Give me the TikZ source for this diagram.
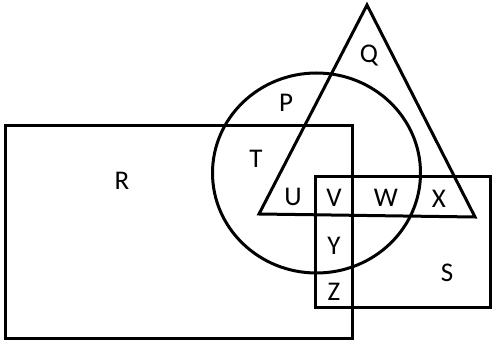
\documentclass[tikz,border=0pt]{standalone}
\usepackage{fontspec}
\setmainfont{Carlito}
\begin{document}
\begin{tikzpicture}[x=1pt,y=-1pt,
  outline/.style={draw=black,line width=3pt,line join=miter},
  lbl/.style={font=\fontsize{27}{27}\selectfont,inner sep=0pt,anchor=center}]
\useasboundingbox (0,0) rectangle (493,344);
% R rectangle
\draw[outline] (5,126) rectangle (352,339);
% S rectangle
\draw[outline] (315,177) rectangle (490,308);
% circle
\draw[outline] (316.5,173) ellipse [x radius=104,y radius=100];
% triangle
\draw[outline] (367,5) -- (475,217) -- (259,214) -- cycle;
% labels
\node[lbl] (Q) at (369,56) {Q};
\node[lbl] (P) at (286,103) {P};
\node[lbl] (T) at (256,159) {T};
\node[lbl] (R) at (122,181) {R};
\node[lbl] (U) at (293,197) {U};
\node[lbl] (V) at (334,198) {V};
\node[lbl] (W) at (386,198) {W};
\node[lbl] (X) at (439,199) {X};
\node[lbl] (Y) at (334,246) {Y};
\node[lbl] (Z) at (334,292) {Z};
\node[lbl] (S) at (447,273) {S};
\end{tikzpicture}
\end{document}
